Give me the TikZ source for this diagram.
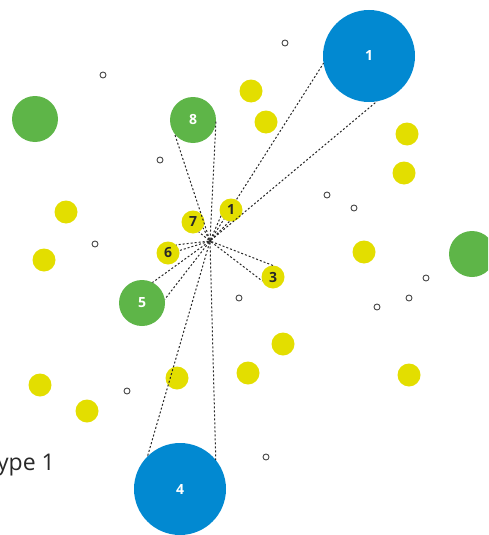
\documentclass[tikz,border=0pt]{standalone}
\usepackage{fontspec}
\setmainfont{Open Sans}
\definecolor{cblue}{RGB}{2,137,209}
\definecolor{cgreen}{RGB}{94,181,72}
\definecolor{cyel}{RGB}{227,222,0}
\definecolor{cdark}{RGB}{40,40,40}
\begin{document}
\begin{tikzpicture}[x=1pt,y=-1pt,
  bigblue/.style={circle,fill=cblue,minimum size=92pt,inner sep=0pt,outer sep=0pt,text=white,font=\bfseries\fontsize{14}{14}\selectfont},
  grn/.style={circle,fill=cgreen,minimum size=46pt,inner sep=0pt,outer sep=0pt,text=white,font=\bfseries\fontsize{14}{14}\selectfont},
  yel/.style={circle,fill=cyel,minimum size=23pt,inner sep=0pt,outer sep=0pt,text=cdark,font=\bfseries\fontsize{14}{14}\selectfont},
  hollow/.style={circle,draw=cdark!85,line width=0.9pt,minimum size=6pt,inner sep=0pt,outer sep=0pt},
  hubdot/.style={circle,fill=cdark,minimum size=3pt,inner sep=0pt,outer sep=0pt},
  link/.style={draw=cdark,dash pattern=on 2pt off 2pt,line width=1pt}]
\useasboundingbox (0,0) rectangle (488,535);
\clip (0,0) rectangle (488,535);

% small hollow circles
\node[hollow] (h1) at (285,43) {};
\node[hollow] (h2) at (103,75) {};
\node[hollow] (h3) at (160,160) {};
\node[hollow] (h4) at (327,195) {};
\node[hollow] (h5) at (354,208) {};
\node[hollow] (h6) at (95,244) {};
\node[hollow] (h7) at (426,278) {};
\node[hollow] (h8) at (409,298) {};
\node[hollow] (h9) at (239,298) {};
\node[hollow] (h10) at (377,307) {};
\node[hollow] (h11) at (127,391) {};
\node[hollow] (h12) at (266,457) {};

% unlabelled yellow circles
\node[yel] (y1) at (251,91) {};
\node[yel] (y2) at (266,122) {};
\node[yel] (y3) at (407,134) {};
\node[yel] (y4) at (404,173) {};
\node[yel] (y5) at (66,212) {};
\node[yel] (y6) at (44,260) {};
\node[yel] (y7) at (364,252) {};
\node[yel] (y8) at (283,344) {};
\node[yel] (y9) at (248,373) {};
\node[yel] (y10) at (177,378) {};
\node[yel] (y11) at (409,375) {};
\node[yel] (y12) at (40,385) {};
\node[yel] (y13) at (87,411) {};

% unlabelled green circles
\node[grn] (g1) at (35,119) {};
\node[grn] (g2) at (472,254) {};

% labelled circles
\node[bigblue] (n1) at (369,56) {1};
\node[bigblue] (n4) at (180,489) {4};
\node[grn] (n8) at (193,120) {8};
\node[grn] (n5) at (142,303) {5};
\node[yel] (s7) at (193,222) {7};
\node[yel] (s6) at (168,253) {6};
\node[yel] (s3) at (273,277) {3};

% hub
\node[hubdot] (hub) at (210,241) {};

% link passing beneath the small circle 1
\draw[link] (hub) -- (n1.189);
\node[yel] (s1) at (231,210) {1};

% dashed links
\draw[link] (hub) -- (n1.280);
\draw[link] (hub) -- (n4.135);
\draw[link] (hub) -- (n4.39);
\draw[link] (hub) -- (n8.217);
\draw[link] (hub) -- (n8.357);
\draw[link] (hub) -- (n5.63);
\draw[link] (hub) -- (n5.9);
\draw[link] (hub) -- (s3.90);
\draw[link] (hub) -- (s3.200);
\draw[link] (hub) -- (s6.45);
\draw[link] (hub) -- (s6.12);
\draw[link] (hub) -- (s7.330);
\draw[link] (hub) -- (s7.300);
\draw[link] (hub) -- (s1.210);
\draw[link] (hub) -- (s1.262);

% caption (cut off at the left edge, as in the reference)
\node[anchor=base east,inner sep=0pt,text=cdark,font=\fontsize{23}{23}\selectfont] (cap) at (55,470) {Type 1};
\end{tikzpicture}
\end{document}
